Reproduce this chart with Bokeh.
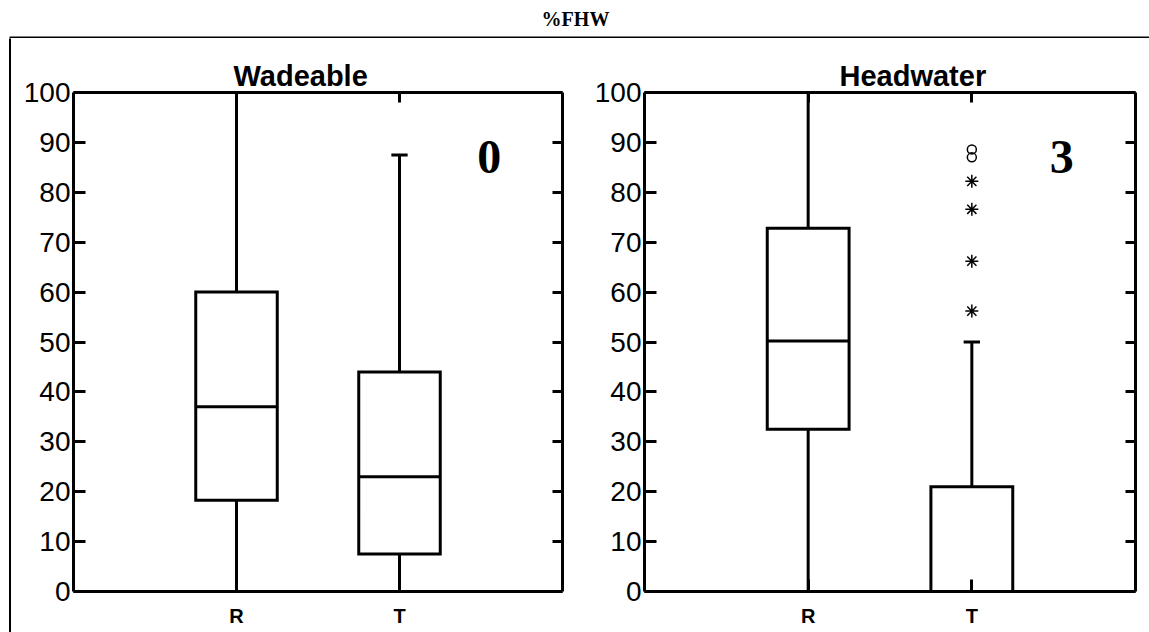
from bokeh.plotting import figure
from bokeh.layouts import column, row
from bokeh.models import FixedTicker, LinearAxis, Range1d
from bokeh.core.properties import value
from bokeh.embed import file_html
from bokeh.resources import INLINE

# ---- data -------------------------------------------------------------
categories = ["R", "T"]
cat_pos = [1, 2]
y_ticks = [0, 10, 20, 30, 40, 50, 60, 70, 80, 90, 100]

# Wadeable streams
wade_lo = [0, 0]
wade_q1 = [18.3, 7.5]
wade_med = [37.0, 23.0]
wade_q3 = [60.0, 44.0]
wade_hi = [100.0, 87.5]
wade_count = "0"

# Headwater streams
head_lo = [0, 0]
head_q1 = [32.5, 0.0]
head_med = [50.2, 0.0]
head_q3 = [72.8, 21.0]
head_hi = [100.0, 50.0]
head_count = "3"
head_T_extremes = [88.6, 87.0]              # open circles
head_T_outliers = [82.2, 76.6, 66.2, 56.2]  # asterisks

SANS = "Liberation Sans"
SERIF = "Liberation Serif"
BOX_HALF = 0.25
CAP_HALF = 0.05


def ticks_only_axis(ticks, tick_in):
    return LinearAxis(ticker=FixedTicker(ticks=ticks), major_tick_in=tick_in, major_tick_out=0,
                      minor_tick_line_color=None, axis_line_width=3, major_tick_line_width=3,
                      major_label_text_color=None, major_label_text_font_size="1px",
                      major_label_standoff=0)


def make_panel(title, lo, q1, med, q3, hi, count, width, bl, br, title_offset):
    p = figure(width=width, height=594, x_range=Range1d(0, 3), y_range=Range1d(0, 100),
               output_backend="svg", toolbar_location=None,
               min_border_left=bl, min_border_right=br, min_border_top=54, min_border_bottom=41)
    p.title.text = title
    p.title.text_font = SANS
    p.title.text_font_size = "29px"
    p.title.text_font_style = "bold"
    p.title.text_color = "black"
    p.title.align = "left"
    p.title.offset = title_offset
    p.title.standoff = 2
    p.xgrid.visible = False
    p.ygrid.visible = False
    p.outline_line_color = None

    # left axis with labels
    ya = p.left[0]
    ya.ticker = FixedTicker(ticks=y_ticks)
    ya.major_tick_in = 12
    ya.major_tick_out = 0
    ya.minor_tick_line_color = None
    ya.axis_line_width = 3
    ya.major_tick_line_width = 3
    ya.major_label_text_font = SANS
    ya.major_label_text_font_size = "28px"
    ya.major_label_text_color = "black"
    ya.major_label_standoff = 3

    # bottom axis with category labels
    xa = p.below[0]
    xa.ticker = FixedTicker(ticks=cat_pos)
    xa.major_label_overrides = {c: n for c, n in zip(cat_pos, categories)}
    xa.major_tick_in = 12
    xa.major_tick_out = 0
    xa.minor_tick_line_color = None
    xa.axis_line_width = 3
    xa.major_tick_line_width = 3
    xa.major_label_text_font = SANS
    xa.major_label_text_font_size = "20px"
    xa.major_label_text_font_style = "bold"
    xa.major_label_text_color = "black"
    xa.major_label_standoff = 13

    # right and top axes carry ticks only
    p.add_layout(ticks_only_axis(y_ticks, 10), "right")
    p.add_layout(ticks_only_axis(cat_pos, 10), "above")

    # whiskers and caps
    p.segment(x0=cat_pos, y0=lo, x1=cat_pos, y1=q1, line_color="black", line_width=3)
    p.segment(x0=cat_pos, y0=q3, x1=cat_pos, y1=hi, line_color="black", line_width=3)
    p.segment(x0=[c - CAP_HALF for c in cat_pos], y0=hi, x1=[c + CAP_HALF for c in cat_pos], y1=hi,
              line_color="black", line_width=3)
    p.segment(x0=[c - CAP_HALF for c in cat_pos], y0=lo, x1=[c + CAP_HALF for c in cat_pos], y1=lo,
              line_color="black", line_width=3)

    # boxes and medians
    p.quad(left=[c - BOX_HALF for c in cat_pos], right=[c + BOX_HALF for c in cat_pos],
           bottom=q1, top=q3, fill_color="white", line_color="black", line_width=3,
           line_join="miter")
    p.segment(x0=[c - BOX_HALF for c in cat_pos], y0=med, x1=[c + BOX_HALF for c in cat_pos], y1=med,
              line_color="black", line_width=3)

    # count of outlying sites
    p.text(x=[2.55], y=[87], text=[count], text_font=value(SERIF), text_font_size="48px",
           text_font_style="bold", text_align="center", text_baseline="middle", text_color="black")
    return p


p1 = make_panel("Wadeable", wade_lo, wade_q1, wade_med, wade_q3, wade_hi, wade_count,
                width=580, bl=62, br=29, title_offset=160)
p2 = make_panel("Headwater", head_lo, head_q1, head_med, head_q3, head_hi, head_count,
                width=558, bl=52, br=14, title_offset=195)

# outliers of the headwater T group
p2.scatter(x=[2] * len(head_T_extremes), y=head_T_extremes, marker="circle", size=9,
           fill_color=None, line_color="black", line_width=1.5)
p2.scatter(x=[2] * len(head_T_outliers), y=head_T_outliers, marker="asterisk", size=13,
           line_color="black", line_width=1.5)

# heading strip with the overall title and the top rule of the frame
top = figure(width=1149, height=38, x_range=Range1d(0, 1149), y_range=Range1d(0, 38),
             output_backend="svg", toolbar_location=None, title=None, min_border=0)
top.axis.visible = False
top.grid.visible = False
top.outline_line_color = None
top.segment(x0=[9], y0=[1], x1=[1149], y1=[1], line_color="black", line_width=2)
top.text(x=[575], y=[20], text=["%FHW"], text_font=value(SERIF), text_font_size="20px",
         text_font_style="bold", text_align="center", text_baseline="middle", text_color="black")

# left rule of the frame
strip = figure(width=11, height=594, x_range=Range1d(0, 11), y_range=Range1d(0, 594),
               output_backend="svg", toolbar_location=None, title=None, min_border=0)
strip.axis.visible = False
strip.grid.visible = False
strip.outline_line_color = None
strip.frame_align = False
strip.segment(x0=[9.5], y0=[0], x1=[9.5], y1=[595], line_color="black", line_width=2)

layout = column(top, row(strip, p1, p2, spacing=0), spacing=0)

with open("out.html", "w") as f:
    f.write(file_html(layout, INLINE))
